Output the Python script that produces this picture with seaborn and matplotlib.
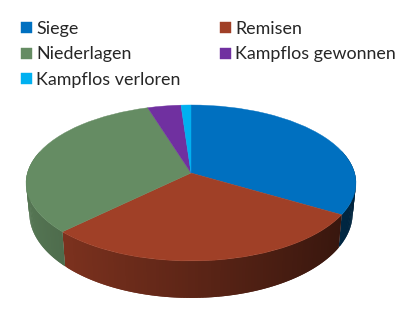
import numpy as np
import matplotlib
matplotlib.use('Agg')
import matplotlib.pyplot as plt
from matplotlib.transforms import Transform
from matplotlib.colors import to_rgb
import seaborn as sns

# Anteile aus dem Bild geschätzt (Prozent)
labels = ['Siege', 'Remisen', 'Niederlagen', 'Kampflos gewonnen', 'Kampflos verloren']
values = [33.5, 29.2, 32.5, 3.7, 1.1]
colors = ['#0070C0', '#A04027', '#658C63', '#7030A0', '#00B0F0']

sns.set_theme(style='white')
plt.rcParams['font.family'] = ['Lato', 'DejaVu Sans']

# Lage der Torte im Bild (Pixel)
CX, CY = 191, 173
A, B, K = 163.6, 76.7, 0.128


def project(x, y):
    w = 1 + K * y
    return CX + A * x / w, CY - B * y / w


def project_bottom(x, y):
    # Unterkante: etwas schmaler, nach unten versetzt
    px, py = project(x, y)
    return CX + (px - CX) * 0.98, CY + (py - CY) * 1.087 + 29.3


class Tilt(Transform):
    input_dims = 2
    output_dims = 2

    def transform_non_affine(self, values):
        px, py = project(values[:, 0], values[:, 1])
        return np.column_stack([px, py])


fig = plt.figure(figsize=(4.2, 3.14), dpi=100)
ax = fig.add_axes([0, 0, 1, 1])

wedges, _ = ax.pie(values, colors=colors, startangle=90, counterclock=False)
ax.set_aspect('auto')
ax.set_xlim(0, 420)
ax.set_ylim(314, 0)

for wedge, color in zip(wedges, colors):
    wedge.set_transform(Tilt() + ax.transData)
    wedge.set_edgecolor(color)
    wedge.set_linewidth(0.3)
    wedge.set_zorder(3)

    # Seitenwand in schmalen Streifen, nach rechts dunkler.
    # Jeder Streifen überlappt den nächsten, sonst sieht man die Nähte.
    edges = np.arange(wedge.theta1, wedge.theta2 + 1, 1.0)
    edges[-1] = wedge.theta2
    rgb = np.array(to_rgb(color))
    for i in range(len(edges) - 1):
        t = np.radians(np.linspace(edges[i], edges[min(i + 2, len(edges) - 1)], 3))
        x, y = np.cos(t), np.sin(t)
        if y.max() > 0.3:
            continue
        shade = np.clip(0.58 - 0.27 * x[0], 0, 1)
        tx, ty = project(x, y)
        bx, by = project_bottom(x, y)
        ax.fill(np.r_[tx, bx[::-1]], np.r_[ty, by[::-1]],
                facecolor=rgb * shade, edgecolor='none', zorder=2)

# Spaltenweise gefüllt, damit die Reihenfolge wie im Original ist
order = [0, 2, 4, 1, 3]
ax.legend([wedges[i] for i in order], [labels[i] for i in order],
          ncol=2, frameon=False, fontsize=12.9,
          loc='upper left', bbox_to_anchor=(21 / 420, 1 - 21 / 314),
          bbox_transform=fig.transFigure, borderaxespad=0, borderpad=0,
          handlelength=0.61, handleheight=0.57, handletextpad=0.25,
          labelspacing=0.53, columnspacing=2.18)

fig.savefig('out.png', dpi=100)
